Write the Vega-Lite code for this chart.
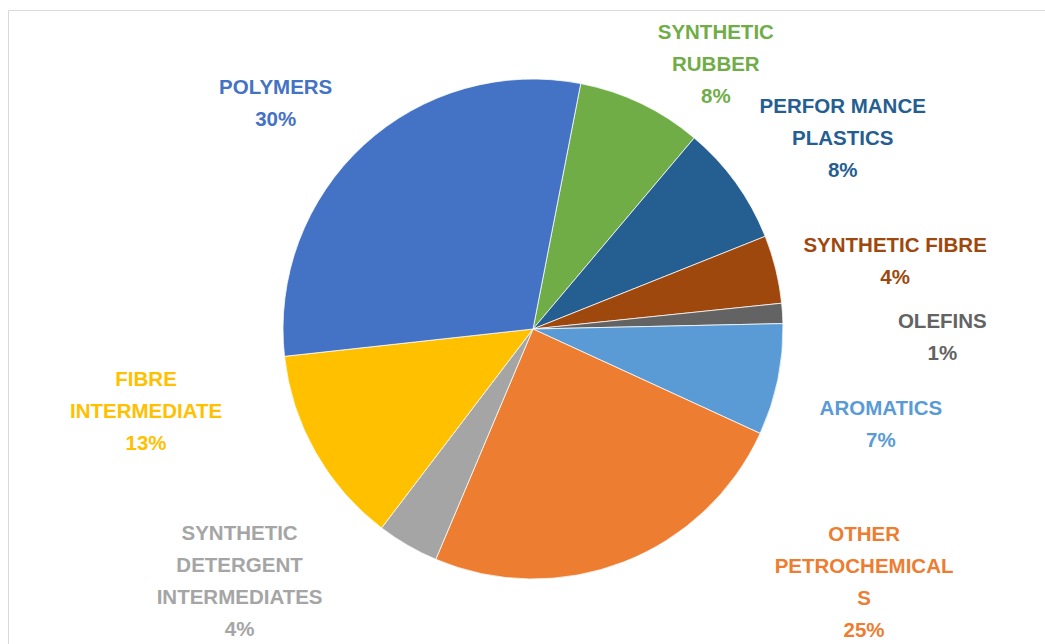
{
  "$schema": "https://vega.github.io/schema/vega-lite/v6.json",
  "width": 1050,
  "height": 638,
  "autosize": {"type": "none"},
  "padding": {"left": 8, "top": 10, "right": -13, "bottom": -4},
  "background": "white",
  "view": {"stroke": "#d9d9d9", "strokeWidth": 1, "fill": "white"},
  "data": {
    "values": [
      {"category": "SYNTHETIC RUBBER", "label": "SYNTHETIC\nRUBBER\n8%", "share": 8.1, "rank": 1},
      {"category": "PERFORMANCE PLASTICS", "label": "PERFOR MANCE\nPLASTICS\n8%", "share": 7.8, "rank": 2},
      {"category": "SYNTHETIC FIBRE", "label": "SYNTHETIC  FIBRE\n4%", "share": 4.4, "rank": 3},
      {"category": "OLEFINS", "label": "OLEFINS\n1%", "share": 1.3, "rank": 4},
      {"category": "AROMATICS", "label": "AROMATICS\n7%", "share": 7.2, "rank": 5},
      {"category": "OTHER PETROCHEMICALS", "label": "OTHER\nPETROCHEMICAL\nS\n25%", "share": 24.5, "rank": 6},
      {"category": "SYNTHETIC DETERGENT INTERMEDIATES", "label": "SYNTHETIC\nDETERGENT\nINTERMEDIATES\n4%", "share": 4.0, "rank": 7},
      {"category": "FIBRE INTERMEDIATE", "label": "FIBRE\nINTERMEDIATE\n13%", "share": 12.9, "rank": 8},
      {"category": "POLYMERS", "label": "POLYMERS\n30%", "share": 29.8, "rank": 9}
    ]
  },
  "encoding": {
    "theta": {"field": "share", "type": "quantitative", "stack": true, "scale": {"range": [0.192, 6.4752]}},
    "order": {"field": "rank", "type": "quantitative"},
    "color": {
      "field": "category",
      "type": "nominal",
      "scale": {
        "domain": ["SYNTHETIC RUBBER", "PERFORMANCE PLASTICS", "SYNTHETIC FIBRE", "OLEFINS", "AROMATICS", "OTHER PETROCHEMICALS", "SYNTHETIC DETERGENT INTERMEDIATES", "FIBRE INTERMEDIATE", "POLYMERS"],
        "range": ["#70AD47", "#255E91", "#9E480E", "#636363", "#5B9BD5", "#ED7D31", "#A5A5A5", "#FFC000", "#4472C4"]
      },
      "legend": null
    }
  },
  "layer": [
    {"mark": {"type": "arc", "outerRadius": 250, "stroke": "white", "strokeWidth": 0.75}},
    {
      "mark": {
        "type": "text",
        "radius": 340,
        "font": "Liberation Sans",
        "fontWeight": "bold",
        "fontSize": 20.5,
        "lineHeight": 32,
        "lineBreak": "\n",
        "align": "center",
        "baseline": "middle",
        "dx": {"expr": "({'SYNTHETIC RUBBER': 36, 'PERFORMANCE PLASTICS': 34, 'SYNTHETIC FIBRE': 32, 'OLEFINS': 70, 'AROMATICS': 15, 'OTHER PETROCHEMICALS': 208, 'SYNTHETIC DETERGENT INTERMEDIATES': -123, 'FIBRE INTERMEDIATE': -91, 'POLYMERS': -27})[datum.category]"},
        "dy": {"expr": "({'SYNTHETIC RUBBER': 11, 'PERFORMANCE PLASTICS': -23, 'SYNTHETIC FIBRE': -2, 'OLEFINS': 14, 'AROMATICS': 11, 'OTHER PETROCHEMICALS': -111, 'SYNTHETIC DETERGENT INTERMEDIATES': -89, 'FIBRE INTERMEDIATE': -116, 'POLYMERS': 9})[datum.category]"}
      },
      "encoding": {"text": {"field": "label", "type": "nominal"}}
    }
  ]
}
